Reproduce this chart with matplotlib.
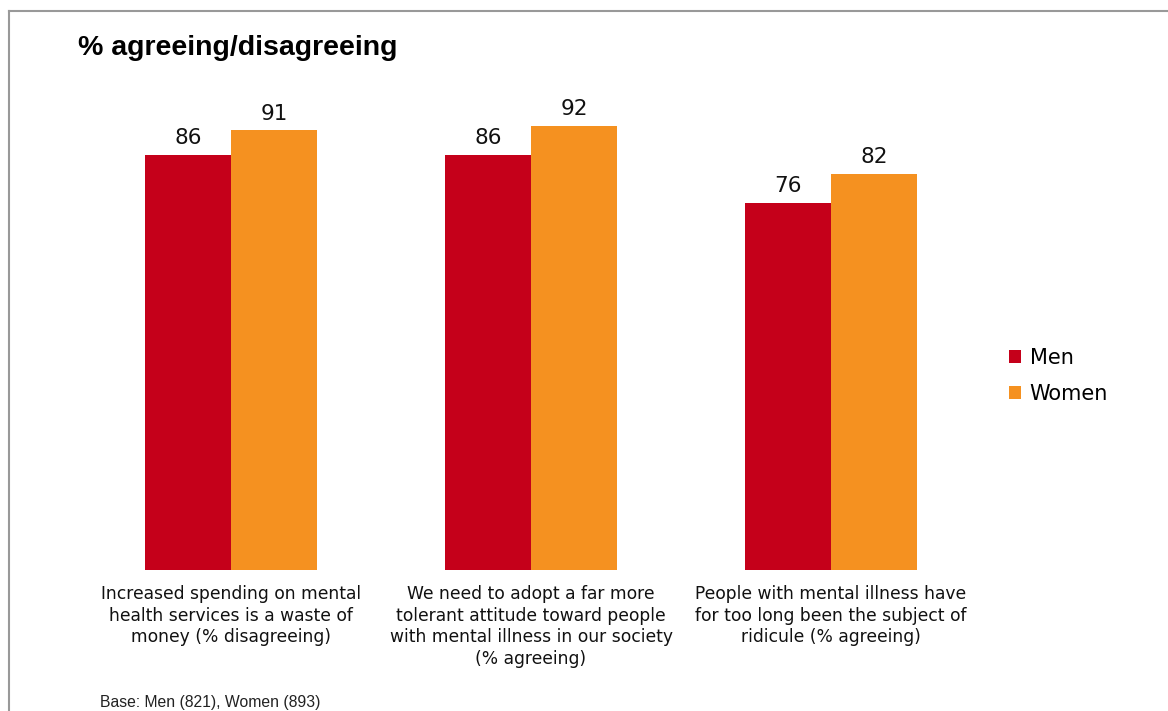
import matplotlib.pyplot as plt
from matplotlib.lines import Line2D
import numpy as np

categories = [
    'Increased spending on mental\nhealth services is a waste of\nmoney (% disagreeing)',
    'We need to adopt a far more\ntolerant attitude toward people\nwith mental illness in our society\n(% agreeing)',
    'People with mental illness have\nfor too long been the subject of\nridicule (% agreeing)',
]
men = [86, 86, 76]
women = [91, 92, 82]
series_names = ['Men', 'Women']
colors = ['#C5001A', '#F59120']

W, H = 1168, 711
fig = plt.figure(figsize=(W / 100, H / 100), dpi=100)
fig.patch.set_facecolor('white')

# axes box in pixels: left 81, right 981, bottom 570, top 87
ax = fig.add_axes([81 / W, 1 - 570 / H, 900 / W, 483 / H])
x = np.arange(len(categories))
bw = 0.287
b1 = ax.bar(x - bw / 2, men, bw, color=colors[0], label=series_names[0])
b2 = ax.bar(x + bw / 2, women, bw, color=colors[1], label=series_names[1])
ax.set_xlim(-0.5, 2.5)
ax.set_ylim(0, 100)
ax.axis('off')

for bars in (b1, b2):
    for r in bars:
        ax.annotate(f'{r.get_height():.0f}', (r.get_x() + r.get_width() / 2, r.get_height()),
                    xytext=(0, 5), textcoords='offset points', ha='center', va='bottom',
                    fontsize=15.5, family='DejaVu Sans', color='#111111')

for xi, lab in zip(x, categories):
    ax.annotate(lab, (xi, 0), xytext=(0, -11), textcoords='offset points', ha='center', va='top',
                fontsize=12.3, family='DejaVu Sans', color='#111111', linespacing=1.25)

# title and base note
fig.text(78 / W, 1 - 48 / H, '% agreeing/disagreeing', fontsize=20.5, fontweight='bold',
         family='Liberation Sans', ha='left', va='center')
fig.text(100 / W, 1 - 703 / H, 'Base: Men (821), Women (893)', fontsize=11.3,
         family='Liberation Sans', ha='left', va='center', color='#222222')

# legend
fig.legend(handles=[b1, b2], labels=series_names, loc='center left',
           bbox_to_anchor=(990 / W, 1 - 376 / H), frameon=False,
           handlelength=0.6, handleheight=0.6, handletextpad=0.4, labelspacing=0.75,
           prop={'family': 'DejaVu Sans', 'size': 15})

# frame lines along top and left
fig.add_artist(Line2D([9 / W, 1], [1 - 11 / H, 1 - 11 / H], color='#999999', lw=1.5,
                      transform=fig.transFigure))
fig.add_artist(Line2D([9 / W, 9 / W], [1 - 11 / H, 0], color='#999999', lw=1.5,
                      transform=fig.transFigure))

fig.savefig('out.png', dpi=100)
